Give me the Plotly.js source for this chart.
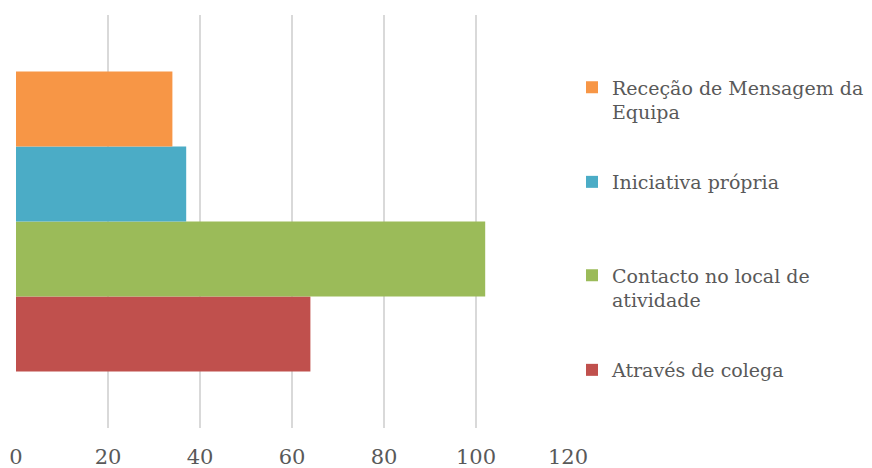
<!DOCTYPE html>
<html>
<head>
<meta charset="utf-8">
<script src="https://cdn.plot.ly/plotly-3.0.1.min.js"></script>
<style>html,body{margin:0;padding:0;background:#fff;}#chart{width:872px;height:468px;}</style>
</head>
<body>
<div id="chart"></div>
<script>
// Data (bottom to top)
const seriesNames = ["Através de colega", "Contacto no local de<br>atividade", "Iniciativa própria", "Receção de Mensagem da<br>Equipa"];
const seriesValues = [64, 102, 37, 34];
const seriesColors = ["#C0504D", "#9BBB59", "#4BACC6", "#F79646"];
const category = ["Total"];
const tickVals = [0, 20, 40, 60, 80, 100, 120];

const FONT = "DejaVu Serif";
const FS = 19;
const legendIds = ["legend2", "legend3", "legend4", "legend5"];
const legendY = [370, 288, 182, 100]; // pixel centres of each legend block
const plotTop = 15, plotH = 413, plotL = 16, plotW = 552;

const traces = seriesNames.map((n, i) => ({
  type: "bar",
  orientation: "h",
  name: n,
  x: [seriesValues[i]],
  y: category,
  marker: {color: seriesColors[i]},
  legend: legendIds[i],
  hoverinfo: "x+name"
}));

const layout = {
  width: 872, height: 468,
  margin: {l: plotL, r: 872 - plotL - plotW, t: plotTop, b: 468 - plotTop - plotH, autoexpand: false},
  paper_bgcolor: "#fff", plot_bgcolor: "#fff",
  barmode: "group",
  bargap: 0.274,
  showlegend: true,
  font: {family: FONT, color: "#595959", size: FS},
  xaxis: {
    range: [0, 120], tickvals: tickVals, showgrid: true, gridcolor: "#D9D9D9", gridwidth: 2,
    zeroline: false, showline: false, ticks: "", ticklabelstandoff: 14,
    tickfont: {family: FONT, size: 21, color: "#595959"}, fixedrange: true
  },
  yaxis: {showticklabels: false, showgrid: false, zeroline: false, showline: false, fixedrange: true}
};
legendIds.forEach((id, i) => {
  layout[id] = {
    x: (572 - plotL) / plotW, xanchor: "left",
    y: 1 - (legendY[i] - plotTop) / plotH, yanchor: "middle",
    valign: "top",
    bgcolor: "rgba(0,0,0,0)",
    font: {family: FONT, size: FS, color: "#595959"},
    itemwidth: 30
  };
});

Plotly.newPlot("chart", traces, layout, {displayModeBar: false, staticPlot: true});
</script>
</body>
</html>
